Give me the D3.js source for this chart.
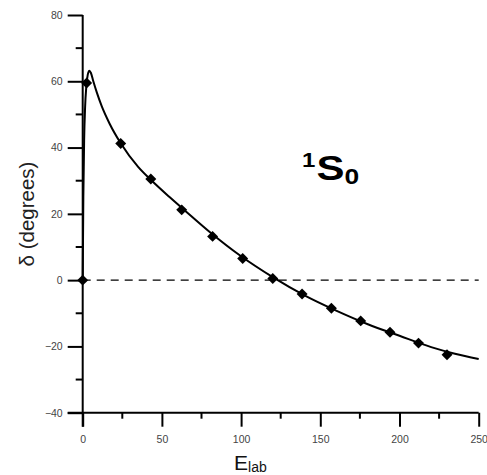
<!DOCTYPE html>
<html>
<head>
<meta charset="utf-8">
<script src="https://cdn.jsdelivr.net/npm/d3@7"></script>
<style>
    body { margin: 0; background: #fff; }
    svg text { font-family: "Liberation Sans", Arial, sans-serif; }
</style>
</head>
<body>
<svg id="chart"></svg>
<script>
var width = 487, height = 475;

// measured phase shifts (diamonds)
var pointE = [0, 2.5, 24, 43, 62.5, 82, 101, 120, 138.5, 157, 175.5, 194, 212, 230];
var pointDelta = [0, 59.5, 41.2, 30.5, 21.2, 13.2, 6.5, 0.5, -4.2, -8.5, -12.3, -15.7, -19.0, -22.5];

// calculated curve
var curveE = [0, 0.4, 0.9, 1.5, 2.3, 3.2, 4.2, 5.2, 6.7, 9, 12, 17, 24, 35, 43, 55, 65, 80, 100, 120, 140, 160, 180, 200, 220, 235, 250];
var curveDelta = [0, 25, 42, 52, 58.5, 62, 63.2, 62.5, 60, 56.5, 52.5, 47.2, 41.3, 34.2, 30.3, 25, 20.8, 14.6, 7.2, 0.9, -4.6, -9.2, -13.3, -16.8, -20.2, -22.2, -23.8];

var xTicks = [0, 50, 100, 150, 200, 250];
var xMinor = [25, 75, 125, 175, 225];
var yTicks = [-40, -20, 0, 20, 40, 60, 80];
var yMinor = [-30, -10, 10, 30, 50, 70];

var x = d3.scaleLinear().domain([0, 250]).range([82.7, 478.7]);
var y = d3.scaleLinear().domain([-40, 80]).range([412.7, 15]);

var svg = d3.select('svg#chart')
    .attr('width', width)
    .attr('height', height) ;

// axes (minor ticks added by hand)
var xAxis = svg.append('g')
    .attr('transform', 'translate(0,' + y(-40) + ')')
    .call(d3.axisBottom(x).tickValues(xTicks).tickSize(14).tickPadding(9).tickSizeOuter(0)) ;
xAxis.select('.domain').remove();
xAxis.append('g')
    .selectAll('line')
    .data(xMinor)
    .enter().append('line')
    .attr('x1', x).attr('x2', x)
    .attr('y1', 0).attr('y2', 6) ;

var yAxis = svg.append('g')
    .attr('transform', 'translate(' + x(0) + ',0)')
    .call(d3.axisLeft(y).tickValues(yTicks).tickSize(15).tickPadding(5).tickSizeOuter(0)) ;
yAxis.select('.domain').remove();
yAxis.append('g')
    .selectAll('line')
    .data(yMinor)
    .enter().append('line')
    .attr('y1', y).attr('y2', y)
    .attr('x1', 0).attr('x2', -7) ;

svg.selectAll('.tick line, g line').attr('stroke', '#000').attr('stroke-width', 2);
svg.selectAll('.tick text')
    .attr('fill', '#444')
    .style('font-size', '10.5px') ;

// axis lines
svg.append('line')
    .attr('x1', x(0) - 15).attr('x2', x(250))
    .attr('y1', y(-40)).attr('y2', y(-40))
    .attr('stroke', '#000').attr('stroke-width', 2) ;
svg.append('line')
    .attr('x1', x(0)).attr('x2', x(0))
    .attr('y1', y(80)).attr('y2', y(-40) + 14)
    .attr('stroke', '#000').attr('stroke-width', 2) ;

// zero line
svg.append('line')
    .attr('x1', x(0)).attr('x2', x(250))
    .attr('y1', y(0)).attr('y2', y(0))
    .attr('stroke', '#000').attr('stroke-width', 1.3)
    .attr('stroke-dasharray', '8,6') ;

// curve
var line = d3.line()
    .x(function (d) { return x(d[0]); })
    .y(function (d) { return y(d[1]); })
    .curve(d3.curveMonotoneX) ;

svg.append('path')
    .datum(d3.zip(curveE, curveDelta))
    .attr('d', line)
    .attr('fill', 'none')
    .attr('stroke', '#000')
    .attr('stroke-width', 2) ;

// points
var diamond = d3.symbol().type(d3.symbolSquare).size(60);
svg.append('g')
    .selectAll('path')
    .data(d3.zip(pointE, pointDelta))
    .enter().append('path')
    .attr('d', diamond)
    .attr('transform', function (d) {
        return 'translate(' + x(d[0]) + ',' + y(d[1]) + ') rotate(45)';
    })
    .attr('fill', '#000') ;

// axis titles
svg.append('text')
    .attr('transform', 'translate(34,' + 214 + ') rotate(-90)')
    .attr('text-anchor', 'middle')
    .attr('fill', '#222')
    .style('font-size', '20.5px')
    .text('δ (degrees)') ;

var xt = svg.append('text')
    .attr('x', 234)
    .attr('y', 470)
    .attr('fill', '#111')
    .style('font-size', '21px') ;
xt.append('tspan').text('E');
xt.append('tspan').attr('dy', 2).style('font-size', '14px').text('lab');

// state label, slightly stretched like the original
var st = svg.append('text')
    .attr('transform', 'translate(302,167) scale(1.2,1)')
    .attr('fill', '#000')
    .style('font-weight', 'bold') ;
st.append('tspan').style('font-size', '20px').text('1');
st.append('tspan').attr('dy', 13).attr('dx', 1).style('font-size', '35px').text('S');
st.append('tspan').attr('dy', 4).style('font-size', '22px').text('0');
</script>
</body>
</html>
